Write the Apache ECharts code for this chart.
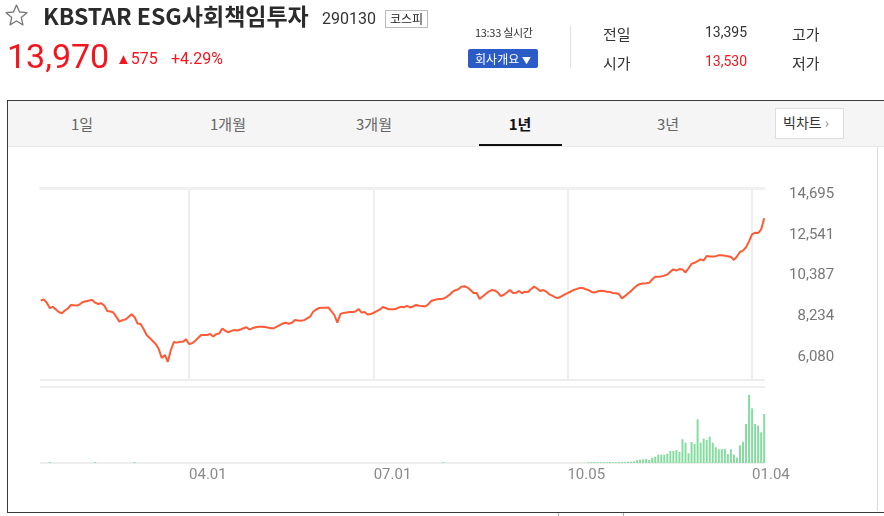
<!DOCTYPE html>
<html><head><meta charset="utf-8">
<script src="https://cdn.jsdelivr.net/npm/echarts@6/dist/echarts.min.js"></script>
<style>
html,body{margin:0;padding:0;width:884px;height:516px;overflow:hidden;background:#fff;font-family:"Noto Sans CJK KR","Noto Sans",sans-serif;}
.a{position:absolute;white-space:nowrap;line-height:1;}
.tab{position:absolute;top:116px;width:100px;text-align:center;font-size:15px;color:#666;line-height:1;}
.red{color:#f3161e;}
</style></head><body>
<!-- panel -->
<div class="a" style="left:7px;top:100px;width:900px;height:411px;border:1px solid #3a3a3a;background:#fff;"></div>
<div class="a" style="left:8px;top:101px;width:880px;height:45px;background:#f5f5f5;border-bottom:1px solid #e8e8e8;"></div>
<div class="a" style="left:877px;top:147px;width:1px;height:364px;background:#dcdcdc;"></div>
<div class="a" style="left:558px;top:513px;width:64px;height:8px;border:1px solid #b0b0b0;border-top:none;background:#fff;"></div>
<div class="tab" style="left:32px;">1일</div>
<div class="tab" style="left:178px;">1개월</div>
<div class="tab" style="left:324px;">3개월</div>
<div class="tab" style="left:470px;color:#111;font-weight:bold;">1년</div>
<div class="tab" style="left:618px;">3년</div>
<div class="a" style="left:479px;top:144px;width:83px;height:2px;background:#111;"></div>
<div class="a" style="left:775px;top:108px;width:67px;height:29px;border:1px solid #ddd;background:#fff;"></div>
<div class="a" style="left:783px;top:115px;font-size:14px;color:#333;">빅차트 <span style="color:#888;">›</span></div>

<div id="chart" style="position:absolute;left:0;top:0;width:884px;height:516px;"></div>

<!-- header -->
<svg class="a" style="left:4px;top:3px;" width="25" height="25" viewBox="0 0 24 24"><polygon points="12,2 14.9,8.6 22,9.3 16.6,14 18.2,21 12,17.3 5.8,21 7.4,14 2,9.3 9.1,8.6" fill="none" stroke="#7a7a7a" stroke-width="1.3" stroke-linejoin="round"/></svg>
<div class="a" style="left:43px;top:4px;font-size:23px;font-weight:bold;color:#2b2b2b;">KBSTAR ESG사회책임투자</div>
<div class="a" style="left:322px;top:11px;font-size:16px;color:#333;font-family:Roboto,sans-serif;">290130</div>
<div class="a" style="left:385px;top:10px;width:41px;height:16px;border:1px solid #bbb;font-size:12px;color:#222;text-align:center;line-height:16px;">코스피</div>
<div class="a red" style="left:7px;top:39px;font-size:34px;font-family:Roboto,sans-serif;">13,970</div>
<div class="a red" style="left:116px;top:51px;font-size:16px;font-family:Roboto,sans-serif;"><span style="font-size:15px;">▲</span>575</div>
<div class="a red" style="left:171px;top:51px;font-size:16px;font-family:Roboto,sans-serif;">+4.29%</div>

<div class="a" style="left:475px;top:27px;font-size:11px;color:#333;letter-spacing:-0.3px;">13:33 실시간</div>
<div class="a" style="left:468px;top:49px;width:70px;height:19px;background:#2a5bc6;border-radius:2px;color:#fff;font-size:12px;line-height:19px;text-align:center;">회사개요 <span style="font-size:9px;">▼</span></div>
<div class="a" style="left:570px;top:25px;width:1px;height:43px;background:#e2e2e2;"></div>
<div class="a" style="left:603px;top:26px;font-size:15px;color:#333;">전일</div>
<div class="a" style="left:705px;top:25px;font-size:14px;color:#333;font-family:Roboto,sans-serif;">13,395</div>
<div class="a" style="left:792px;top:26px;font-size:15px;color:#333;">고가</div>
<div class="a" style="left:603px;top:55px;font-size:15px;color:#333;">시가</div>
<div class="a red" style="left:705px;top:54px;font-size:14px;font-family:Roboto,sans-serif;">13,530</div>
<div class="a" style="left:792px;top:55px;font-size:15px;color:#333;">저가</div>

<script>
// ---- data ----
const holidays = ['2020-01-24','2020-01-27','2020-04-15','2020-04-30','2020-05-01','2020-05-05','2020-08-17','2020-09-30','2020-10-01','2020-10-02','2020-10-09','2020-12-25','2020-12-31','2021-01-01'];
const firstDay = '2020-01-21';
const lastDay = '2021-01-08';
const xTickDates = ['2020-04-01','2020-07-01','2020-10-05','2021-01-04'];
const yTickValues = [6080, 8234, 10387, 12541, 14695];

const closePrices = [
 9060, 9130, 8950, 8670, 8730, 8590, 8460, 8390, 8540, 8650,
 8830, 8810, 8800, 8880, 8990, 9030, 9070, 9100, 8950, 8880,
 8920, 8800, 8510, 8490, 8430, 8200, 7950, 8030, 8060, 8200,
 8340, 8200, 7850, 7830, 7560, 7240, 7090, 6930, 6770, 6500,
 6030, 6190, 5830, 6450, 6870, 6840, 6890, 6890, 7010, 6770,
 6810, 6930, 7090, 7240, 7240, 7240, 7300, 7160, 7290, 7320,
 7590, 7460, 7390, 7460, 7510, 7480, 7530, 7600, 7650, 7530,
 7610, 7650, 7680, 7680, 7660, 7640, 7600, 7600, 7690, 7770,
 7850, 7890, 7840, 7890, 8040, 8010, 8000, 8030, 8120, 8210,
 8470, 8590, 8670, 8690, 8680, 8700, 8510, 8300, 7900, 8350,
 8410, 8430, 8460, 8460, 8490, 8620, 8430, 8460, 8330, 8350,
 8420, 8500, 8580, 8720, 8670, 8600, 8600, 8600, 8680, 8730,
 8710, 8780, 8700, 8750, 8830, 8790, 8780, 8750, 8860, 9040,
 9090, 9130, 9150, 9160, 9250, 9360, 9520, 9610, 9660, 9800,
 9820, 9750, 9620, 9460, 9460, 9150, 9280, 9410, 9540, 9620,
 9600, 9490, 9300, 9370, 9490, 9620, 9460, 9470, 9570, 9450,
 9530, 9520, 9670, 9800, 9700, 9570, 9620, 9540, 9390, 9320,
 9230, 9200, 9280, 9380, 9460, 9530, 9620, 9670, 9730, 9730,
 9670, 9610, 9520, 9490, 9550, 9580, 9570, 9530, 9520, 9460,
 9450, 9410, 9180, 9300, 9440, 9560, 9730, 9860, 9940, 9970,
 9980, 10000, 10180, 10320, 10320, 10340, 10380, 10440, 10590, 10710,
 10650, 10730, 10710, 10550, 10770, 11000, 11060, 11150, 11240, 11180,
 11420, 11390, 11390, 11410, 11460, 11460, 11430, 11410, 11370, 11210,
 11390, 11630, 11700, 11880, 12190, 12560, 12650, 12630, 12820, 13410
];

const volumes = [
 60, 40, 80, 900, 70, 30, 50, 40, 20, 30, 60, 40, 30, 70, 40, 20, 30, 40, 900, 50,
 40, 30, 40, 60, 50, 70, 80, 60, 50, 40, 60, 900, 70, 80, 60, 90, 100, 80, 70, 90,
 100, 90, 100, 90, 80, 70, 60, 60, 50, 60, 50, 50, 40, 40, 40, 30, 30, 40, 30, 30,
 30, 30, 30, 20, 30, 30, 20, 20, 30, 20, 20, 20, 20, 20, 20, 30, 20, 20, 20, 20,
 30, 30, 20, 30, 30, 30, 20, 30, 30, 40, 40, 40, 30, 30, 30, 30, 30, 40, 50, 40,
 40, 30, 30, 30, 30, 30, 30, 30, 30, 20, 30, 30, 30, 30, 30, 30, 30, 20, 30, 30,
 30, 40, 30, 30, 30, 40, 40, 30, 40, 40, 50, 50, 60, 800, 60, 60, 60, 70, 70, 60,
 70, 60, 60, 60, 60, 60, 60, 50, 50, 50, 50, 50, 50, 50, 50, 50, 40, 50, 50, 50,
 50, 50, 60, 60, 60, 60, 60, 50, 60, 60, 60, 60, 70, 70, 70, 80, 80, 90, 90, 100, 120,
 700, 800, 900, 750, 850, 900, 800, 1000, 900, 800, 950, 1100, 1000, 1200, 1300, 1600,
 2700, 3300, 3700, 4000, 3000, 5300, 6300, 8300, 8300, 8300, 9300, 12000, 12000, 13000, 11000,
 23700, 20300, 9700, 21000, 19000, 43700, 20300, 24300, 23000, 26300, 20300, 15700, 13700, 13700,
 14300, 9000, 13700, 8300, 5300, 17700, 21300, 39000, 68300, 54700, 39000, 37300, 30700, 49000
];

// trading-day categories (weekdays minus exchange holidays)
function buildDays(){
  const out = [];
  let t = Date.parse(firstDay + 'T00:00:00Z');
  const end = Date.parse(lastDay + 'T00:00:00Z');
  while (t <= end) {
    const d = new Date(t);
    const wd = d.getUTCDay();
    const s = d.toISOString().slice(0, 10);
    if (wd !== 0 && wd !== 6 && holidays.indexOf(s) < 0) out.push(s);
    t += 86400000;
  }
  return out;
}
const days = buildDays();
const tickSet = new Set(xTickDates);
const isTick = (i, v) => tickSet.has(v);
const fmtDate = v => v.slice(5).replace('-', '.');

const gridL = 40.7, gridR = 884 - 764.2;
const lineColor = '#eeeeee';

const chart = echarts.init(document.getElementById('chart'), null, {renderer: 'canvas'});
chart.setOption({
  animation: false,
  grid: [
    {left: gridL, right: gridR, top: 188, height: 192},
    {left: gridL, right: gridR, top: 387, height: 76}
  ],
  xAxis: [
    {type: 'category', gridIndex: 0, data: days, boundaryGap: false, position: 'bottom',
     axisLine: {show: true, lineStyle: {color: lineColor, width: 2}}, axisTick: {show: false}, axisLabel: {show: false},
     splitLine: {show: true, interval: isTick, lineStyle: {color: lineColor, width: 2}}},
    {type: 'category', gridIndex: 0, data: days, boundaryGap: false, position: 'top',
     axisLine: {show: true, lineStyle: {color: '#f0f0f0', width: 3}}, axisTick: {show: false}, axisLabel: {show: false}, splitLine: {show: false}},
    {type: 'category', gridIndex: 1, data: days, boundaryGap: false, position: 'bottom',
     axisLine: {show: true, lineStyle: {color: lineColor, width: 2}}, axisTick: {show: false},
     axisLabel: {show: true, interval: isTick, formatter: fmtDate, align: 'left', margin: 5,
       color: '#8a8a8a', fontSize: 15, fontFamily: 'Roboto'},
     splitLine: {show: false}},
    {type: 'category', gridIndex: 1, data: days, boundaryGap: false, position: 'top',
     axisLine: {show: true, lineStyle: {color: lineColor, width: 2}}, axisTick: {show: false}, axisLabel: {show: false}, splitLine: {show: false}}
  ],
  yAxis: [
    {type: 'value', gridIndex: 0, position: 'right', min: 4865, max: 15012,
     axisLine: {show: false}, axisTick: {show: false}, splitLine: {show: false},
     axisLabel: {show: true, customValues: yTickValues, align: 'right', margin: 70,
       color: '#777', fontSize: 15, fontFamily: 'Roboto',
       formatter: v => Number(v).toLocaleString('en-US')}},
    {type: 'value', gridIndex: 1, min: 0, max: 76000, show: false}
  ],
  series: [
    {type: 'line', xAxisIndex: 0, yAxisIndex: 0, data: closePrices, showSymbol: false, symbol: 'none',
     lineStyle: {color: '#ff5a36', width: 2}, clip: false},
    {type: 'bar', xAxisIndex: 2, yAxisIndex: 1, data: volumes, barWidth: 2, clip: false,
     itemStyle: {color: '#86dca0'}}
  ]
});
</script>
</body></html>
